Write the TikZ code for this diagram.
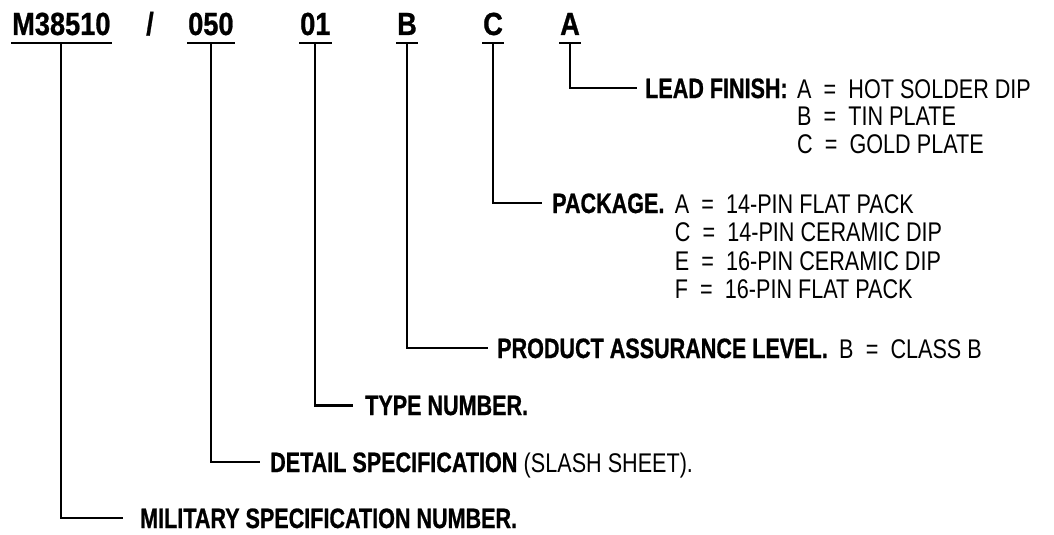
\documentclass[tikz,border=0pt]{standalone}
\usepackage{fontspec}
\setmainfont{Liberation Sans}
\newfontfamily\codef{Liberation Sans}[FakeStretch=0.85, BoldFeatures={FakeBold=0.8}]
\newfontfamily\lblf{Liberation Sans}[FakeStretch=0.77, BoldFeatures={FakeBold=0.8}]
\newfontfamily\valf{Liberation Sans}[FakeStretch=0.8]
\newcommand{\eqs}{\hspace{0.45em}=\hspace{0.45em}}
\begin{document}
\begin{tikzpicture}[x=1pt,y=-1pt,
  code/.style={font=\fontsize{32}{32}\codef\bfseries, inner sep=0pt, anchor=base west},
  lbl/.style={font=\fontsize{28}{28}\lblf\bfseries, inner sep=0pt, anchor=base west},
  val/.style={font=\fontsize{27}{27}\valf, inner sep=0pt, anchor=base west},
  uline/.style={line width=2.6pt},
  conn/.style={line width=2.2pt}]
\useasboundingbox (0,0) rectangle (1054,535);
% top codes
\node[code] (cM) at (12,35) {M38510};
\node[code] (cS) at (146,35) {/};
\node[code] (c050) at (188,35) {050};
\node[code] (c01) at (300,35) {01};
\node[code] (cB) at (397,35) {B};
\node[code] (cC) at (483,35) {C};
\node[code] (cA) at (560,35) {A};
\foreach \n in {cM,c050,c01,cB,cC,cA}
  \draw[uline] ([shift={(-1pt,-8pt)}]\n.base west) -- ([shift={(1pt,-8pt)}]\n.base east);
% labels and values
\node[lbl] (lead) at (645,98) {LEAD FINISH:};
\node[val] (leadA) at ([xshift=9pt]lead.base east) {A\eqs HOT SOLDER DIP};
\node[val] (leadB) at ([yshift=-27.5pt]leadA.base west) {B\eqs TIN PLATE};
\node[val] (leadC) at ([yshift=-27.5pt]leadB.base west) {C\eqs GOLD PLATE};
\node[lbl] (pkg) at (552,213) {PACKAGE.};
\node[val] (pkgA) at ([xshift=10pt]pkg.base east) {A\eqs 14-PIN FLAT PACK};
\node[val] (pkgC) at ([yshift=-28.5pt]pkgA.base west) {C\eqs 14-PIN CERAMIC DIP};
\node[val] (pkgE) at ([yshift=-28.5pt]pkgC.base west) {E\eqs 16-PIN CERAMIC DIP};
\node[val] (pkgF) at ([yshift=-28.5pt]pkgE.base west) {F\eqs 16-PIN FLAT PACK};
\node[lbl] (pal) at (497,358) {PRODUCT ASSURANCE LEVEL.};
\node[val] (palB) at ([xshift=11pt]pal.base east) {B\eqs CLASS B};
\node[lbl] (type) at (365,415) {TYPE NUMBER.};
\node[lbl] (det) at (270,472) {DETAIL SPECIFICATION};
\node[val] (detS) at (det.base east) {\ (SLASH SHEET).};
\node[lbl] (mil) at (140,528) {MILITARY SPECIFICATION NUMBER.};
% connectors
\foreach \c/\t/\g in {cA/lead/8pt, cC/pkg/10pt, cB/pal/9pt, c01/type/12pt, c050/det/10pt, cM/mil/17pt}
  \draw[conn] ([yshift=-8pt]\c.base) |- ([xshift=-\g]\t.west);
\end{tikzpicture}
\end{document}
